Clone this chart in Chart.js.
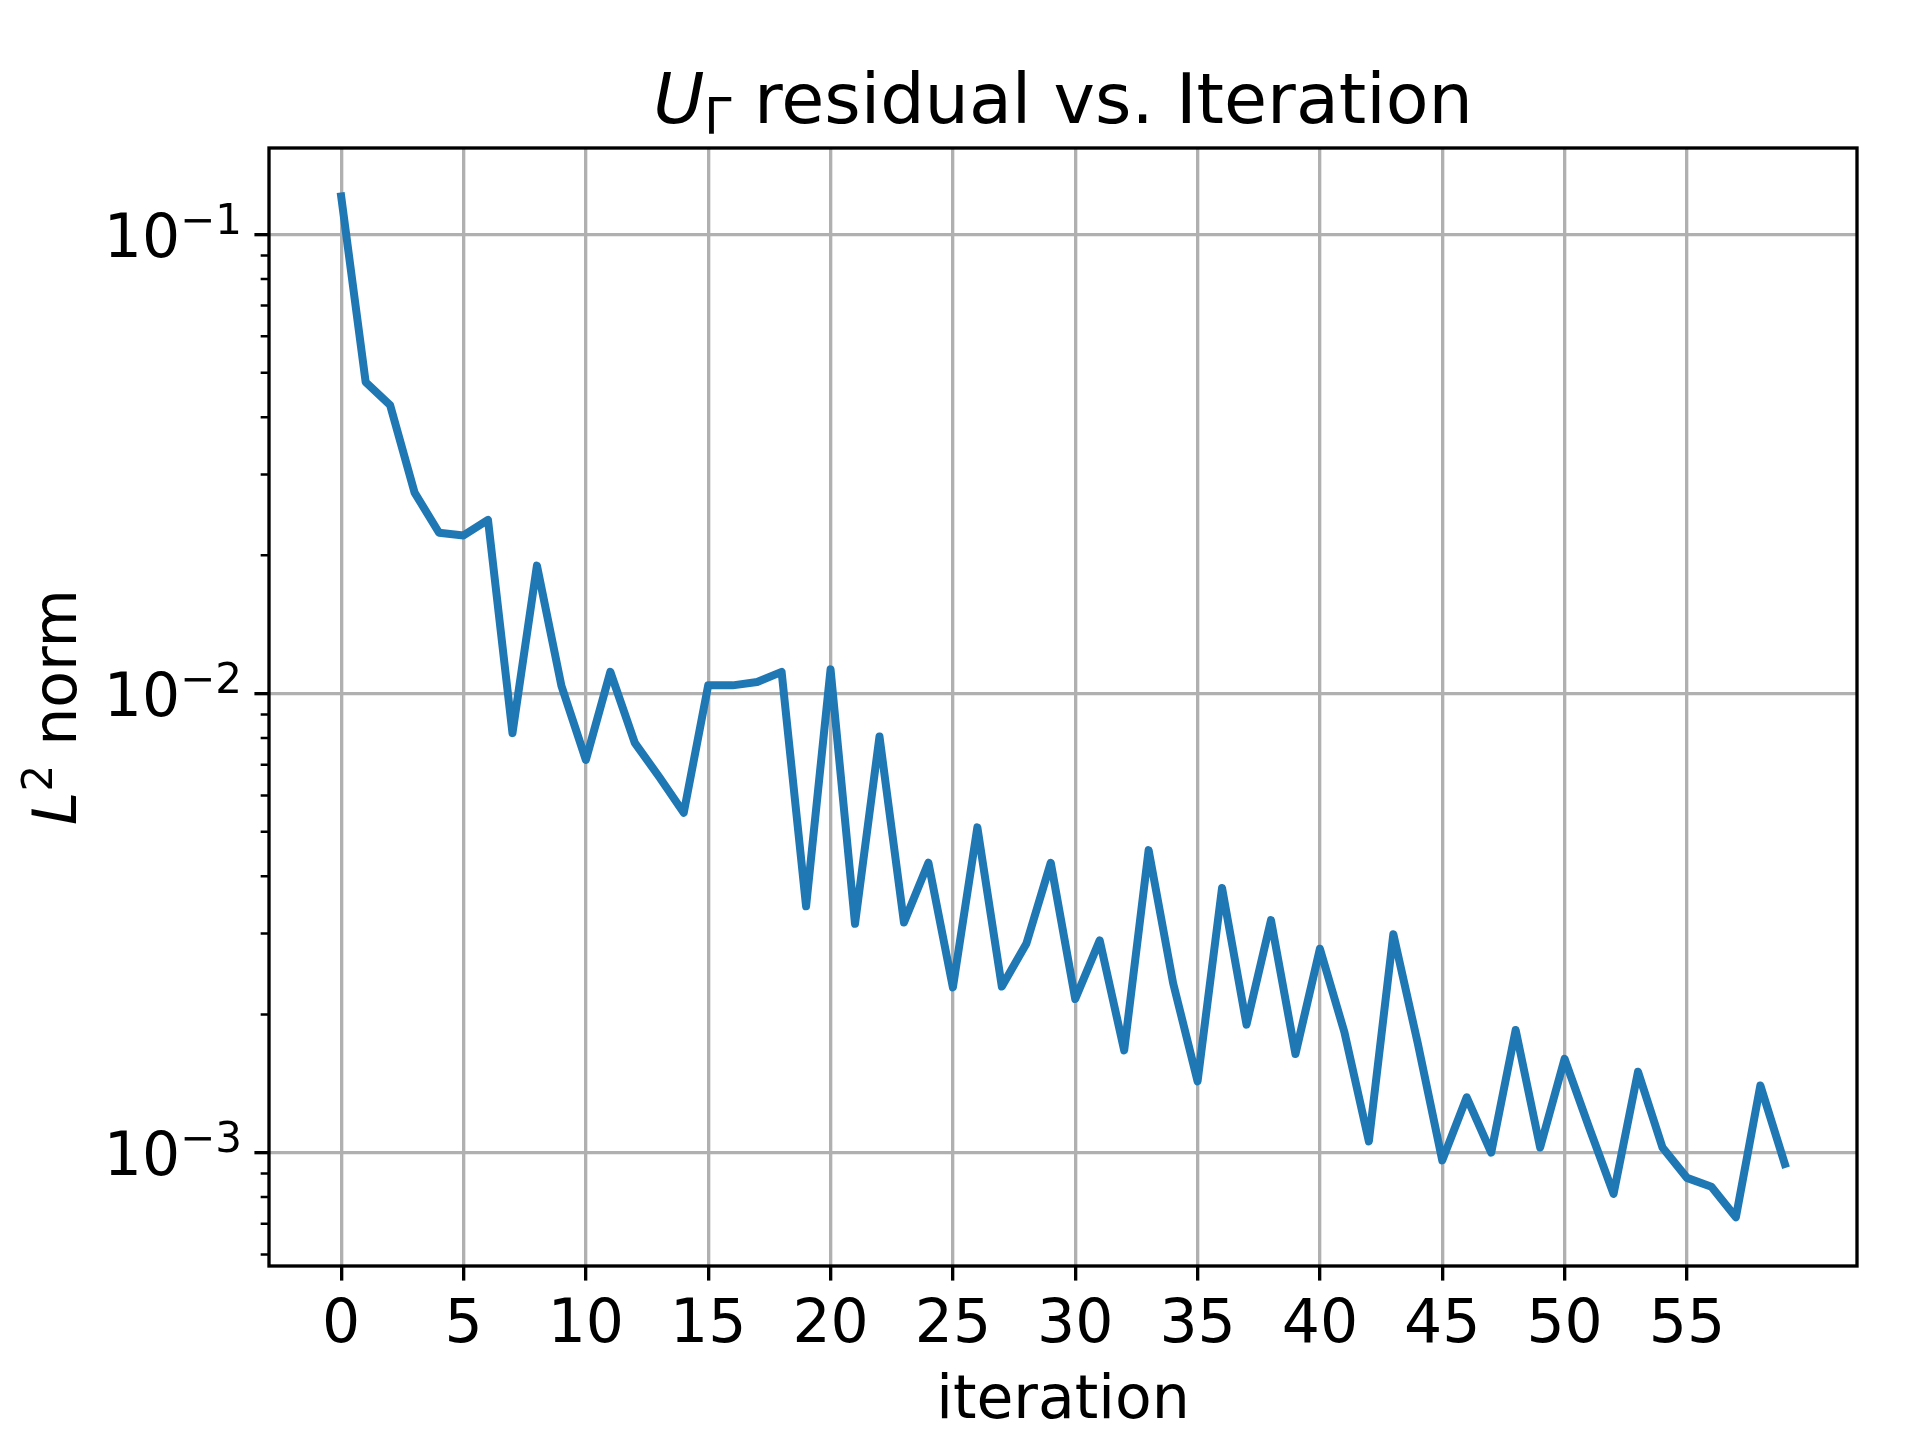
<!DOCTYPE html>
<html>
<head>
<meta charset="utf-8">
<script src="https://cdn.jsdelivr.net/npm/chart.js@4.4.1/dist/chart.umd.min.js"></script>
<style>
  html, body { margin: 0; padding: 0; background: #ffffff; }
  #wrap { width: 1920px; height: 1440px; }
</style>
</head>
<body>
<div id="wrap"><canvas id="c" width="1920" height="1440"></canvas></div>
<script>
// ---- data ----
const iterations = [
  0, 1, 2, 3, 4, 5, 6, 7, 8, 9,
  10, 11, 12, 13, 14, 15, 16, 17, 18, 19,
  20, 21, 22, 23, 24, 25, 26, 27, 28, 29,
  30, 31, 32, 33, 34, 35, 36, 37, 38, 39,
  40, 41, 42, 43, 44, 45, 46, 47, 48, 49,
  50, 51, 52, 53, 54, 55, 56, 57, 58, 59
];
const residuals = [
  0.121, 0.0477, 0.0425, 0.0274, 0.0224, 0.0221, 0.0239, 0.0082, 0.0190, 0.0104,
  0.00717, 0.01115, 0.00781, 0.00658, 0.00550, 0.01042, 0.01042, 0.0106, 0.01115, 0.00344,
  0.01129, 0.00315, 0.00806, 0.00317, 0.00428, 0.00229, 0.00511, 0.00230, 0.00285, 0.00428,
  0.00216, 0.00290, 0.00167, 0.00456, 0.00234, 0.00143, 0.00377, 0.00190, 0.00321, 0.00164,
  0.00278, 0.00183, 0.001058, 0.00299, 0.00173, 0.000962, 0.00132, 0.00100, 0.00185, 0.001026,
  0.00160, 0.001135, 0.000813, 0.00150, 0.001026, 0.000881, 0.000843, 0.000723, 0.00140, 0.000945
];
const xTickValues = [0, 5, 10, 15, 20, 25, 30, 35, 40, 45, 50, 55];
const xTickLabels = ['0', '5', '10', '15', '20', '25', '30', '35', '40', '45', '50', '55'];
const yTickValues = [1e-1, 1e-2, 1e-3];
const yTickBases = ['10', '10', '10'];
const yTickExponents = ['\u22121', '\u22122', '\u22123'];
const yMinorMultipliers = [2, 3, 4, 5, 6, 7, 8, 9];
const yDecades = [1e-4, 1e-3, 1e-2, 1e-1];

const titleVar = 'U';
const titleSub = '\u0393';
const titleRest = ' residual vs. Iteration';
const xTitle = 'iteration';
const yLabelVar = 'L';
const yLabelSup = '2';
const yLabelRest = ' norm';

const xRange = [-2.95, 61.95];
const yRange = [Math.pow(10, -3.247), Math.pow(10, -0.8116)];

// ---- styling ----
const FONT = '"DejaVu Sans"';
const LINE_COLOR = '#1f77b4';
const GRID_COLOR = '#b0b0b0';
const PT = 300 / 72;

const decorPlugin = {
  id: 'decor',
  beforeDraw(chart) {
    const ctx = chart.ctx;
    ctx.save();
    ctx.fillStyle = '#ffffff';
    ctx.fillRect(0, 0, chart.width, chart.height);
    ctx.restore();
  },
  afterDraw(chart) {
    const ctx = chart.ctx;
    const a = chart.chartArea;
    const ys = chart.scales.y;
    ctx.save();
    // spines
    ctx.strokeStyle = '#000';
    ctx.lineWidth = 0.8 * PT;
    ctx.strokeRect(a.left, a.top, a.right - a.left, a.bottom - a.top);

    // minor ticks on the log axis
    ctx.lineWidth = 0.6 * PT;
    ctx.beginPath();
    yDecades.forEach(d => {
      yMinorMultipliers.forEach(m => {
        const v = d * m;
        if (v >= ys.min && v <= ys.max) {
          const py = ys.getPixelForValue(v);
          ctx.moveTo(a.left - 2 * PT, py);
          ctx.lineTo(a.left, py);
        }
      });
    });
    ctx.stroke();

    // y tick labels with superscript exponents
    ctx.fillStyle = '#000';
    ctx.textBaseline = 'alphabetic';
    ctx.textAlign = 'left';
    const big = 60, small = 42;
    yTickValues.forEach((v, i) => {
      const py = ys.getPixelForValue(v);
      ctx.font = small + 'px ' + FONT;
      const ws = ctx.measureText(yTickExponents[i]).width;
      ctx.font = big + 'px ' + FONT;
      const wb = ctx.measureText(yTickBases[i]).width;
      const right = a.left - 27;
      const base = py + 22.5;
      ctx.fillText(yTickBases[i], right - ws - wb, base);
      ctx.font = small + 'px ' + FONT;
      ctx.fillText(yTickExponents[i], right - ws, base - 23);
    });

    // title: italic U with subscript Gamma
    const tBig = 70, tSmall = 49;
    ctx.font = 'italic ' + tBig + 'px ' + FONT;
    const wU = ctx.measureText(titleVar).width;
    ctx.font = tSmall + 'px ' + FONT;
    const wG = ctx.measureText(titleSub).width;
    ctx.font = tBig + 'px ' + FONT;
    const wR = ctx.measureText(titleRest).width;
    const total = wU + wG + wR;
    const cx = (a.left + a.right) / 2;
    let tx = cx - total / 2;
    const tBase = 122.5;
    ctx.font = 'italic ' + tBig + 'px ' + FONT;
    ctx.fillText(titleVar, tx, tBase);
    tx += wU;
    ctx.font = tSmall + 'px ' + FONT;
    ctx.fillText(titleSub, tx, tBase + 10);
    tx += wG;
    ctx.font = tBig + 'px ' + FONT;
    ctx.fillText(titleRest, tx, tBase);

    // y axis label: italic L with superscript 2, rotated
    const lBig = 60, lSmall = 42;
    ctx.font = 'italic ' + lBig + 'px ' + FONT;
    const wL = ctx.measureText(yLabelVar).width;
    ctx.font = lSmall + 'px ' + FONT;
    const w2 = ctx.measureText(yLabelSup).width;
    ctx.font = lBig + 'px ' + FONT;
    const wN = ctx.measureText(yLabelRest).width;
    const lt = wL + w2 + wN;
    ctx.translate(76, (a.top + a.bottom) / 2);
    ctx.rotate(-Math.PI / 2);
    let lx = -lt / 2;
    ctx.font = 'italic ' + lBig + 'px ' + FONT;
    ctx.fillText(yLabelVar, lx, 0);
    lx += wL;
    ctx.font = lSmall + 'px ' + FONT;
    ctx.fillText(yLabelSup, lx, -24);
    lx += w2;
    ctx.font = lBig + 'px ' + FONT;
    ctx.fillText(yLabelRest, lx, 0);
    ctx.restore();
  }
};

const chart = new Chart(document.getElementById('c'), {
  type: 'line',
  data: {
    datasets: [{
      data: iterations.map((x, i) => ({ x: x, y: residuals[i] })),
      borderColor: LINE_COLOR,
      backgroundColor: LINE_COLOR,
      borderWidth: 8,
      borderCapStyle: 'square',
      borderJoinStyle: 'round',
      pointRadius: 0,
      tension: 0,
      fill: false
    }]
  },
  options: {
    responsive: false,
    animation: false,
    devicePixelRatio: 1,
    layout: { padding: { top: 148, right: 63, left: 0, bottom: 0 } },
    plugins: {
      legend: { display: false },
      title: { display: false },
      tooltip: { enabled: false }
    },
    scales: {
      x: {
        type: 'linear',
        min: xRange[0],
        max: xRange[1],
        bounds: 'data',
        afterBuildTicks: s => { s.ticks = xTickValues.map(v => ({ value: v })); },
        afterFit: s => { s.height = 174; },
        grid: {
          color: GRID_COLOR,
          lineWidth: 0.8 * PT,
          drawTicks: true,
          tickLength: 3.5 * PT,
          tickWidth: 0.8 * PT,
          tickColor: '#000'
        },
        border: { display: false },
        ticks: {
          autoSkip: false,
          maxRotation: 0,
          minRotation: 0,
          padding: 10,
          color: '#000',
          font: { family: 'DejaVu Sans', size: 60 },
          callback: (v, i) => xTickLabels[i]
        },
        title: {
          display: true,
          text: xTitle,
          color: '#000',
          font: { family: 'DejaVu Sans', size: 60 },
          padding: { top: 0, bottom: 2 }
        }
      },
      y: {
        type: 'logarithmic',
        min: yRange[0],
        max: yRange[1],
        bounds: 'data',
        afterBuildTicks: s => { s.ticks = yTickValues.map(v => ({ value: v, major: true })); },
        afterFit: s => { s.width = 269; },
        grid: {
          color: GRID_COLOR,
          lineWidth: 0.8 * PT,
          drawTicks: true,
          tickLength: 3.5 * PT,
          tickWidth: 0.8 * PT,
          tickColor: '#000'
        },
        border: { display: false },
        ticks: { display: false }
      }
    }
  },
  plugins: [decorPlugin]
});
</script>
</body>
</html>
